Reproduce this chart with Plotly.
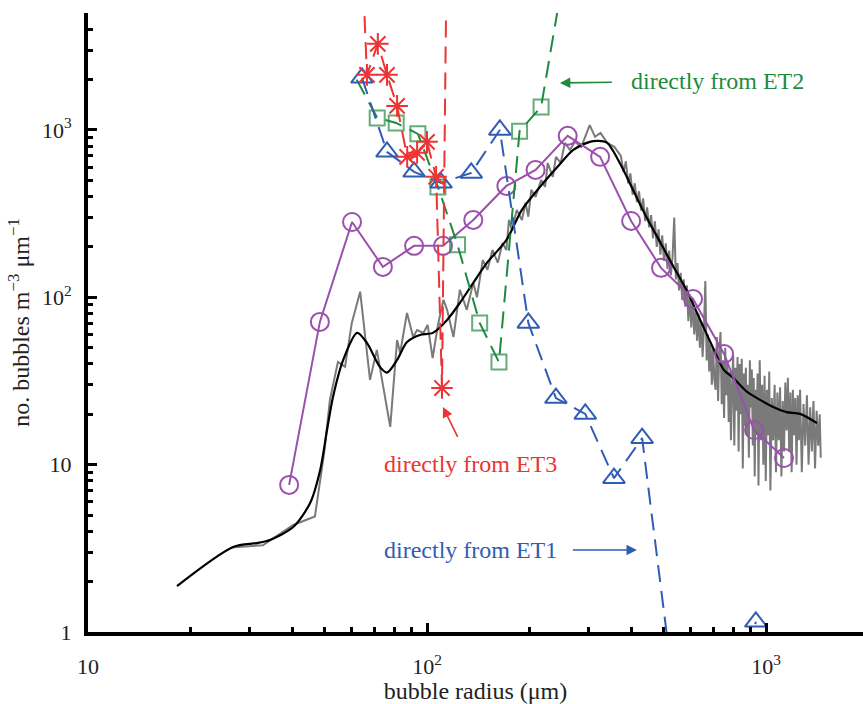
import plotly.graph_objects as go

# ---------------- data ----------------
gray_x = [26.5, 32.8, 40.3, 46.7, 49.8, 51.7, 54.6, 57.3, 60.0, 63.5, 67.9, 71.1, 77.9, 81.6, 83.3,
          87.3, 91.0, 93.5, 97.6, 100.4, 103.9, 107.7, 111.8, 114.6, 119.7, 125.0, 131.0, 136.9, 140.4,
          146.0, 150.8, 156.0, 161.7, 167.0, 171.4, 174.5, 178.0, 184.0, 190.5, 195.2, 199.0, 203.0,
          209.0, 217.2, 223.0, 227.0, 235.0, 240.0, 248.0, 255.0, 264.0, 273.0, 285.0, 302.0, 313.0,
          325.0, 340.0, 357.0,
          373, 380, 386, 392, 398, 404, 410, 416, 422, 428, 434, 440, 446, 452, 458, 464, 470, 476,
          482, 488, 494, 500, 506, 512, 518, 524, 530, 536, 542, 548, 554, 560, 566, 572, 578, 584,
          590, 596, 602, 608, 614, 620, 626, 632, 638, 644, 650, 656, 662, 668, 674, 680, 686, 692,
          698, 704, 710, 716, 722, 728, 734, 740, 746, 752, 758, 764, 770, 776, 782, 788, 794, 800,
          806, 812, 818, 824, 830, 836, 842, 848, 854, 860, 866, 872, 878, 884, 890, 896, 902, 908,
          914, 920, 926, 932, 938, 944, 950, 958, 966, 974, 982, 990, 998, 1006, 1014, 1022, 1030,
          1040, 1050, 1060, 1070, 1080, 1090, 1100, 1110, 1120, 1130, 1140, 1150, 1160, 1170, 1180,
          1190, 1200, 1210, 1220, 1230, 1240, 1250, 1260, 1275, 1290, 1305, 1320, 1335, 1350, 1365,
          1380, 1395, 1410, 1425, 1440, 1450]
gray_y = [3.2, 3.3, 4.36, 4.9, 12, 24.4, 41.1, 38.4, 70.3, 108, 32.1, 48.5, 16.8, 55.6, 46.5,
          80.7, 58.0, 63.8, 61.3, 68.4, 43.4, 68.4, 96.6, 84.2, 58.0, 111, 84.2, 122, 100,
          167, 146, 192, 161, 211, 192, 290, 253, 333, 290, 367, 303, 439,
          398, 503, 457, 635, 525, 691, 635, 837, 760, 850, 793, 1070, 910,
          960, 837, 793,
          700, 560, 650, 480, 550, 410, 480, 370, 430, 330, 390, 285, 345, 262, 310, 225, 285, 200,
          255, 180, 235, 165, 210, 148, 190, 135, 175, 300, 128, 160, 110, 140, 96, 128, 88, 118,
          72, 104, 66, 98, 60, 84, 55, 80, 50, 72, 44, 66, 125, 42, 60, 36, 54, 30,
          50, 32, 28, 58, 24, 48, 62, 23, 42, 19, 50, 26, 40, 18, 36, 14, 30, 45,
          13, 38, 21, 44, 12, 40, 20, 43, 9.5, 35, 17, 38, 15, 30, 11, 42, 22, 37,
          13, 33, 8.5, 28, 15, 35, 7.5, 42, 14, 30, 10, 34, 8, 28, 15, 36, 7,
          25, 14, 30, 9, 27, 14, 29, 8.5, 24, 12, 31, 16, 33, 12, 27,
          9, 28, 15, 25, 10, 26, 14, 28, 9, 23, 13, 26, 10, 22, 12,
          24, 9.5, 21, 13, 20, 11]

black_x = [18.3, 26.8, 31.5, 34.4, 40.3, 45.2, 48.4, 50.7, 52.8, 56.6, 62.2, 66.5, 72.6, 76.2, 81.6,
           87.3, 95.3, 104, 114.6, 125, 136.9, 150, 171.4, 190.5, 215.5, 242.7, 270, 302, 320, 340,
           373, 405, 445, 487, 530, 586, 640, 698, 750, 800, 880, 960, 1050, 1150, 1260, 1413]
black_y = [1.88, 3.22, 3.4, 3.55, 4.24, 5.9, 9.3, 16.1, 25.4, 42.3, 61.3, 53.4, 38.4, 35.5, 42.3,
           54.1, 59.6, 61.3, 73.3, 92.6, 122, 160, 220, 333, 457, 602, 760, 849, 860, 837,
           618, 439, 298, 214, 156, 108, 73, 49.9, 37, 33, 27.2, 24.4, 22.1, 20.6, 20.1, 17.7]

purple_x = [39.2, 48.3, 60.1, 74.1, 91.6, 111.5, 136.9, 171.4, 209, 260, 324, 400, 490, 609, 752, 922, 1130]
purple_y = [7.57, 71.3, 282, 152, 203, 203, 290, 463, 577, 922, 691, 286, 150, 97.8, 45.9, 16.1, 10.96]

et1_x = [64.3, 76.2, 91.6, 110, 135, 164, 199, 240, 293, 356, 431, 525, 640, 780, 933]
et1_y = [2048, 740, 562, 483, 554, 1000, 70.3, 25, 20.1, 8.3, 14.4, 0.6, 0.05, 0.3, 1.15]

et2_x = [62, 71.3, 81.1, 94, 107.7, 123, 143, 163, 187.5, 217, 249]
et2_y = [2000, 1181, 1102, 948, 457, 206, 70.3, 41, 983, 1374, 7000]

et3_x = [63.5, 66.5, 71.6, 76.2, 81.6, 87.4, 93.5, 100, 106.4, 110.7, 117]
et3_y = [20000, 2135, 3270, 2135, 1393, 691, 730, 849, 525, 28.7, 1e6]

x_tickvals = [10, 100, 1000]
x_ticktext = ["10", "10<sup>2</sup>", "10<sup>3</sup>"]
y_tickvals = [1, 10, 100, 1000]
y_ticktext = ["1", "10", "10<sup>2</sup>", "10<sup>3</sup>"]

# ---------------- styles ----------------
FONT = "'Liberation Serif', 'Times New Roman', 'DejaVu Serif', serif"
TXT = "#222222"
GRAY = "#7a7a7a"
PURPLE = "#9b50ad"
BLUE = "#2f5db4"
GREEN = "#1f8a3e"
RED = "#ec3434"
DASH = "17px,9px"

et2_sizes = [0] + [15] * (len(et2_x) - 1)  # first point is only a line end (hidden under triangle)

fig = go.Figure()
fig.add_trace(go.Scatter(x=gray_x, y=gray_y, mode="lines",
                         line=dict(color=GRAY, width=2)))
fig.add_trace(go.Scatter(x=black_x, y=black_y, mode="lines",
                         line=dict(color="black", width=2.2, shape="spline", smoothing=0.8)))
fig.add_trace(go.Scatter(x=purple_x, y=purple_y, mode="lines+markers",
                         line=dict(color=PURPLE, width=2),
                         marker=dict(symbol="circle-open", size=18, color=PURPLE,
                                     line=dict(width=2, color=PURPLE))))
fig.add_trace(go.Scatter(x=et2_x, y=et2_y, mode="lines+markers",
                         line=dict(color=GREEN, width=2, dash=DASH),
                         marker=dict(symbol="square-open", size=et2_sizes, color=GREEN,
                                     line=dict(width=2, color=GREEN))))
fig.add_trace(go.Scatter(x=et1_x, y=et1_y, mode="lines+markers",
                         line=dict(color=BLUE, width=2, dash=DASH),
                         marker=dict(symbol="triangle-up-open", size=19, color=BLUE,
                                     line=dict(width=2, color=BLUE))))
fig.add_trace(go.Scatter(x=et3_x, y=et3_y, mode="lines+markers",
                         line=dict(color=RED, width=2, dash=DASH),
                         marker=dict(symbol="asterisk-open", size=18, color=RED,
                                     line=dict(width=2, color=RED))))

# annotations: arrow head at (x, y); text placed at pixel offset (ax, ay) from the head
notes = [
    dict(text="directly from ET2", x=2.392, y=3.281, ax=158, ay=-2, sst=18, color=GREEN),
    dict(text="directly from ET3", x=2.047, y=1.345, ax=28, ay=57, sst=14, color=RED),
    dict(text="directly from ET1", x=2.619, y=0.490, ax=-166, ay=0, sst=14, color=BLUE),
]
for a in notes:
    fig.add_annotation(x=a["x"], y=a["y"], xref="x", yref="y", text=a["text"],
                       showarrow=True, ax=a["ax"], ay=a["ay"],
                       arrowhead=2, arrowsize=1.3, arrowwidth=1.6, arrowcolor=a["color"],
                       startstandoff=a["sst"],
                       font=dict(family=FONT, size=24, color=a["color"]))

minor_x = [m * d for d in (10, 100, 1000) for m in range(2, 10)]
minor_y = [m * d for d in (1, 10, 100, 1000) for m in range(2, 10)]

fig.update_layout(
    width=863, height=704,
    margin=dict(l=88, r=0, t=13, b=72),
    paper_bgcolor="white", plot_bgcolor="white",
    showlegend=False,
    font=dict(family=FONT, size=22, color=TXT),
)
fig.update_xaxes(
    type="log", range=[1, 3.286],
    showgrid=False, zeroline=False,
    showline=True, linewidth=4, linecolor="black", mirror=False,
    ticks="inside", ticklen=9, tickwidth=3, tickcolor="black",
    tickvals=x_tickvals, ticktext=x_ticktext, ticklabelstandoff=12,
    minor=dict(tickvals=minor_x, ticks="inside", ticklen=5, tickwidth=2.5, tickcolor="black"),
    title=dict(text="bubble radius (μm)", font=dict(family=FONT, size=24, color=TXT), standoff=4),
    tickfont=dict(family=FONT, size=22, color=TXT),
)
fig.update_yaxes(
    type="log", range=[0, 3.699],
    showgrid=False, zeroline=False,
    showline=True, linewidth=4, linecolor="black", mirror=False,
    ticks="inside", ticklen=9, tickwidth=3, tickcolor="black",
    tickvals=y_tickvals, ticktext=y_ticktext, ticklabelstandoff=8,
    minor=dict(tickvals=minor_y, ticks="inside", ticklen=5, tickwidth=2.5, tickcolor="black"),
    title=dict(text="no. bubbles m<sup>−3</sup> μm<sup>−1</sup>",
               font=dict(family=FONT, size=24, color=TXT), standoff=6),
    tickfont=dict(family=FONT, size=22, color=TXT),
)

fig.write_html("out.html")
